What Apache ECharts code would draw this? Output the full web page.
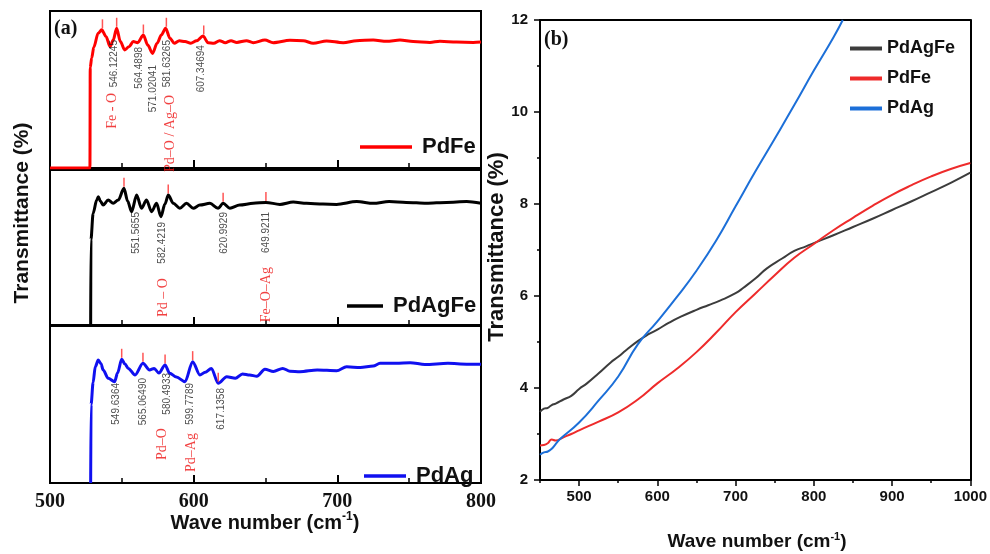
<!DOCTYPE html>
<html><head><meta charset="utf-8">
<script src="https://cdn.jsdelivr.net/npm/echarts@6/dist/echarts.min.js"></script>
<style>html,body{margin:0;padding:0;background:#fff}#c{width:990px;height:554px}</style>
</head><body><div id="c"></div>
<script>
// ---------- Panel (a): FTIR spectra [wavenumber cm-1, relative transmittance] ----------
const pdFeSpectrum = [[500,0],[527.8,0],[528,64],[529,70],[530.5,77],[533.5,85.8],[536,88],[539,83.7],[541.8,77.3],[544,81.5],[546.4,89],[549,80.5],[552,75.2],[555,77.3],[558,80.5],[561,79.8],[565,84.7],[568,78.3],[571.4,73],[574.5,79.4],[577.5,84.7],[580.5,89],[583.5,82.6],[586.5,79.4],[590,81],[594,80.5],[598,79.4],[602,81],[606.5,84.1],[610,79.8],[614,79.4],[618,81.1],[622,79.8],[626,81.1],[630,80],[636.8,81.1],[641.5,79.8],[649.6,81.5],[655.4,79.8],[667,81.3],[676.3,81.1],[683.2,79.4],[692.5,80.9],[704.1,79.8],[713.4,81.1],[725,81.5],[734.3,80.7],[743.6,81.5],[752.8,80.5],[764.5,80],[771.4,80.7],[783,80.2],[794.6,80],[800,80.2]];
const pdAgFeSpectrum = [[528.3,0],[528.5,55],[530,72],[532.5,80.6],[533.6,82.8],[535,80],[537,77.4],[540.5,80.6],[544,78.5],[547.5,80.6],[551.5,88.2],[554,80],[556.8,73.1],[560.3,83.9],[563.7,75.3],[567.2,80.6],[570.7,73.1],[574.2,78.5],[577.2,69.9],[580,78],[582.3,83.9],[585.8,78.5],[590.4,75.3],[595,78.5],[599.7,75.3],[604.3,77.4],[611.3,78.5],[617,75.3],[620.5,78.5],[625.2,75.3],[632,77.4],[641.5,78.5],[650.3,79.1],[660,77.8],[669.3,79.3],[678.6,78.5],[690,78],[699.5,77.8],[713.5,79.6],[725,78.5],[736,79.6],[748,79.1],[762,78.5],[776,79.1],[790,79.6],[800,78.5]];
const pdAgSpectrum = [[528.3,0],[528.6,50],[530,64],[531.5,74],[533.6,78.3],[535.5,76],[537,72],[540.5,66.7],[545,64.5],[547,70],[549.9,78.8],[552,76],[554.5,73],[559.2,68.8],[564.7,76.2],[569.3,72],[572.5,73],[575.8,70],[580.1,75.2],[583.3,69.9],[588,67.5],[594,64.5],[599.3,77.3],[604.3,68.8],[608,70.5],[612.3,73],[617.1,63.5],[623,67.7],[629,66.7],[634,69.5],[639,68.8],[644,68],[649.6,72.4],[655.5,71],[662,73],[667,71.2],[674,70.9],[686,72],[699.5,71.5],[706.5,74.1],[716,73.5],[725,74.5],[729.7,76.2],[741,76.2],[750.7,76.6],[761,75.5],[777,76.2],[790,75.7],[800,75.7]];

// peak marks [wavenumber, transmittance]
const pdFePeaks = [[536.5,88],[546.4,89],[565,84.7],[581,89],[607,84.1]];
const pdAgFePeaks = [[551.5,88.2],[582.3,83.9],[620.5,78.5],[650.3,79.1]];
const pdAgPeaks = [[549.9,78.8],[564.7,76.2],[580.1,75.2],[599.3,77.3],[617.1,63.5]];

// peak value labels [x, y, text]
const pdFePeakText = [[544.5,81.5,'546.12245'],[561.9,77.1,'564.4898'],[571.7,65.6,'571.02041'],[581.4,81.5,'581.63265'],[605.1,78.3,'607.34694']];
const pdAgFePeakText = [[559.8,72.9,'551.5655'],[577.9,66.5,'582.4219'],[621.1,72.9,'620.9929'],[650.3,72.9,'649.9211']];
const pdAgPeakText = [[545.9,63.7,'549.6364'],[565.1,66.9,'565.06490'],[581.4,70.1,'580.4933'],[597.4,63.7,'599.7789'],[619.0,60.5,'617.1358']];

// bond assignment labels [x, y, text]
const pdFeBondText = [[543.5,47.8,'Fe - O'],[583.5,46.5,'Pd–O / Ag–O']];
const pdAgFeBondText = [[578.6,30.3,'Pd – O'],[650.3,37.4,'Fe–O–Ag']];
const pdAgBondText = [[577.9,35,'Pd–O'],[598.1,31.8,'Pd–Ag']];

const xTicksA = [500,600,700,800];

// ---------- Panel (b): [wavenumber, transmittance %] ----------
const pdAgFeB = [[450,3.48],[455,3.55],[460,3.57],[465,3.63],[470,3.66],[480,3.75],[490,3.83],[500,3.98],[510,4.1],[525,4.32],[540,4.55],[550,4.68],[560,4.82],[575,5.02],[590,5.18],[600,5.27],[615,5.42],[630,5.55],[650,5.7],[665,5.8],[680,5.9],[700,6.06],[710,6.18],[726,6.39],[740,6.6],[760,6.82],[775,6.98],[790,7.08],[803,7.17],[825,7.32],[850,7.5],[875,7.68],[900,7.87],[925,8.06],[950,8.26],[975,8.46],[1000,8.68]];
const pdFeB = [[450,2.75],[455,2.76],[460,2.8],[465,2.88],[470,2.86],[480,2.93],[490,3.0],[500,3.08],[525,3.27],[550,3.47],[575,3.75],[600,4.1],[625,4.42],[650,4.78],[675,5.2],[700,5.65],[725,6.05],[750,6.45],[775,6.83],[800,7.13],[825,7.43],[850,7.7],[875,7.96],[900,8.2],[925,8.41],[950,8.6],[975,8.76],[1000,8.89]];
const pdAgB = [[450,2.55],[455,2.6],[460,2.62],[465,2.68],[470,2.78],[475,2.88],[500,3.25],[525,3.73],[550,4.25],[575,4.95],[600,5.45],[625,5.98],[650,6.55],[675,7.2],[700,7.95],[725,8.7],[750,9.42],[775,10.15],[800,10.9],[825,11.62],[837,12.0]];
const xTicksB = [500,600,700,800,900,1000];
const xMinorB = [450,550,650,750,850,950];

// ---------- build ----------
const SANS = 'Liberation Sans, Arial, sans-serif';
const SERIF = 'Liberation Serif, Times New Roman, serif';
const grids = [
  {left:50, top:11, width:431, height:157},
  {left:50, top:170, width:431, height:155},
  {left:50, top:326, width:431, height:157},
  {left:540, top:20, width:433, height:460}
].map((g,i)=>Object.assign(g, i<3 ? {show:true, borderColor:'#000', borderWidth:2} : {}));

const xAxes = [0,1,2].map(i=>({
  type:'value', gridIndex:i, min:500, max:800, interval:100,
  axisLine:{show:false},
  axisTick:{show:true, inside:true, length:8, customValues:xTicksA, lineStyle:{color:'#000', width:2}},
  minorTick:{show:true, splitNumber:2, length:5, lineStyle:{color:'#000', width:1.5}},
  splitLine:{show:false},
  axisLabel:{show:i===2, customValues:xTicksA, margin:9, fontFamily:SERIF, fontWeight:'bold', fontSize:20, color:'#111'}
}));
xAxes.push({
  type:'value', gridIndex:3, min:450, max:1000, position:'bottom',
  axisLine:{show:true, lineStyle:{color:'#000', width:2}},
  axisTick:{show:true, length:6, customValues:xTicksB, lineStyle:{color:'#000', width:1.5}},
  axisLabel:{show:true, customValues:xTicksB, formatter:v=>String(v), margin:9, fontFamily:SANS, fontWeight:'bold', fontSize:15, color:'#111'},
  splitLine:{show:false}
});
xAxes.push({
  type:'value', gridIndex:3, min:450, max:1000, position:'bottom',
  axisLine:{show:false},
  axisTick:{show:true, length:3, customValues:xMinorB, lineStyle:{color:'#000', width:1.5}},
  axisLabel:{show:false}, splitLine:{show:false}
});
xAxes.push({
  type:'value', gridIndex:3, min:450, max:1000, position:'top',
  axisLine:{show:true, lineStyle:{color:'#000', width:2}},
  axisTick:{show:false}, axisLabel:{show:false}, splitLine:{show:false}
});

const yAxes = [0,1,2].map(i=>({type:'value', gridIndex:i, min:0, max:100, show:false}));
yAxes.push({
  type:'value', gridIndex:3, min:2, max:12, interval:2, position:'left',
  axisLine:{show:true, lineStyle:{color:'#000', width:2}},
  axisTick:{show:true, length:6, lineStyle:{color:'#000', width:1.5}},
  minorTick:{show:true, splitNumber:2, length:3, lineStyle:{color:'#000', width:1.5}},
  axisLabel:{margin:12, fontFamily:SANS, fontWeight:'bold', fontSize:15, color:'#111'},
  splitLine:{show:false}
});
yAxes.push({
  type:'value', gridIndex:3, min:2, max:12, position:'right',
  axisLine:{show:true, lineStyle:{color:'#000', width:2}},
  axisTick:{show:false}, axisLabel:{show:false}, splitLine:{show:false}
});

function panelSeries(i, name, color, spectrum, peaks, peakText, bondText){
  return [
    {type:'line', name, xAxisIndex:i, yAxisIndex:i, data:spectrum, symbol:'none',
     smooth:0.3, smoothMonotone:'x', lineStyle:{color, width:3}, itemStyle:{color}, z:3, silent:true},
    {type:'scatter', name:name+'-pk', xAxisIndex:i, yAxisIndex:i, data:peaks, symbol:'rect',
     symbolSize:[1.5,9], symbolOffset:[0,-6], itemStyle:{color:'#ff2a2a'}, z:4, silent:true},
    {type:'scatter', name:name+'-num', xAxisIndex:i, yAxisIndex:i, symbolSize:1,
     itemStyle:{color:'rgba(0,0,0,0)'}, silent:true, z:5,
     data:peakText.map(d=>({name:d[2], value:[d[0],d[1]]})),
     label:{show:true, position:'inside', rotate:90, align:'right', verticalAlign:'middle',
            formatter:'{b}', fontFamily:SANS, fontSize:10, color:'#222'}},
    {type:'scatter', name:name+'-bond', xAxisIndex:i, yAxisIndex:i, symbolSize:1,
     itemStyle:{color:'rgba(0,0,0,0)'}, silent:true, z:5,
     data:bondText.map(d=>({name:d[2], value:[d[0],d[1]]})),
     label:{show:true, position:'inside', rotate:90, align:'right', verticalAlign:'middle',
            formatter:'{b}', fontFamily:SERIF, fontSize:14, color:'#ee1111'}}
  ];
}

const series = [].concat(
  panelSeries(0,'PdFe','#ff0000',pdFeSpectrum,pdFePeaks,pdFePeakText,pdFeBondText),
  panelSeries(1,'PdAgFe','#000000',pdAgFeSpectrum,pdAgFePeaks,pdAgFePeakText,pdAgFeBondText),
  panelSeries(2,'PdAg','#1010f0',pdAgSpectrum,pdAgPeaks,pdAgPeakText,pdAgBondText),
  [
    {type:'line', name:'PdAgFe_b', xAxisIndex:3, yAxisIndex:3, data:pdAgFeB, symbol:'none', smooth:true, lineStyle:{color:'#3c3c3c', width:2}, itemStyle:{color:'#3c3c3c'}, silent:true},
    {type:'line', name:'PdFe_b', xAxisIndex:3, yAxisIndex:3, data:pdFeB, symbol:'none', smooth:true, lineStyle:{color:'#ee2b2b', width:2}, itemStyle:{color:'#ee2b2b'}, silent:true},
    {type:'line', name:'PdAg_b', xAxisIndex:3, yAxisIndex:3, data:pdAgB, symbol:'none', smooth:true, lineStyle:{color:'#1c6fd8', width:2}, itemStyle:{color:'#1c6fd8'}, silent:true}
  ]
);

const legA = (name, left, top, w) => ({
  data:[name], left, top, icon:'rect', itemWidth:w, itemHeight:3.5, selectedMode:false,
  textStyle:{fontFamily:SANS, fontWeight:'bold', fontSize:22, color:'#111', padding:[0,0,0,5]}
});

const option = {
  animation:false,
  backgroundColor:'#fff',
  grid:grids, xAxis:xAxes, yAxis:yAxes, series,
  legend:[
    legA('PdFe',355,131,52),
    legA('PdAgFe',342,290,36),
    legA('PdAg',359,460,42),
    {data:['PdAgFe_b','PdFe_b','PdAg_b'], orient:'vertical', left:845, top:33, icon:'rect', itemWidth:32, itemHeight:4,
     itemGap:9, selectedMode:false,
     formatter:n=>n.replace('_b',''),
     textStyle:{fontFamily:SANS, fontWeight:'bold', fontSize:18, lineHeight:21, color:'#111'}}
  ],
  graphic:[
    {type:'text', x:54, y:29, style:{text:'(a)', font:'bold 20px '+SERIF, fill:'#111', align:'left', verticalAlign:'middle'}},
    {type:'text', x:544, y:40, style:{text:'(b)', font:'bold 20px '+SERIF, fill:'#111', align:'left', verticalAlign:'middle'}},
    {type:'text', x:22, y:213, rotation:Math.PI/2, style:{text:'Transmittance (%)', font:'bold 21px '+SANS, fill:'#111', align:'center', verticalAlign:'middle'}},
    {type:'text', x:497, y:247, rotation:Math.PI/2, style:{text:'Transmittance (%)', font:'bold 22px '+SANS, fill:'#111', align:'center', verticalAlign:'middle'}},
    {type:'text', x:265, y:523, style:{text:'Wave number (cm{sup|-1})', fontFamily:SANS, fontWeight:'bold', fontSize:20, lineHeight:24, fill:'#111', align:'center', verticalAlign:'middle',
      rich:{sup:{fontFamily:SANS, fontWeight:'bold', fontSize:12, lineHeight:12, verticalAlign:'top', fill:'#111'}}}},
    {type:'text', x:757, y:542, style:{text:'Wave number (cm{sup|-1})', fontFamily:SANS, fontWeight:'bold', fontSize:19, lineHeight:22, fill:'#111', align:'center', verticalAlign:'middle',
      rich:{sup:{fontFamily:SANS, fontWeight:'bold', fontSize:11, lineHeight:11, verticalAlign:'top', fill:'#111'}}}}
  ]
};

const chart = echarts.init(document.getElementById('c'), null, {renderer:'canvas'});
chart.setOption(option);
</script></body></html>
